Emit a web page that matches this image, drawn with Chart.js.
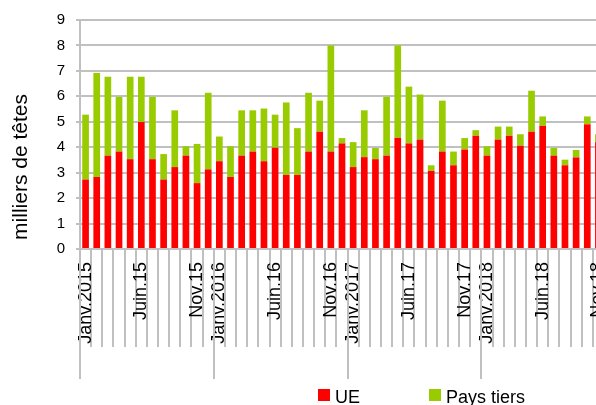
<!DOCTYPE html>
<html lang="fr">
<head>
<meta charset="utf-8">
<script src="https://cdn.jsdelivr.net/npm/chart.js@4/dist/chart.umd.min.js"></script>
<style>
    html, body { margin: 0; padding: 0; background: #fff; overflow: hidden; }
    #graficoTetes { display: block; }
</style>
</head>
<body>
<canvas id="graficoTetes" width="604" height="405"></canvas>
<script>
// mois de janv. 2015 a nov. 2018
const mois = [
    'Janv.2015', 'Févr.15', 'Mars.15', 'Avr.15', 'Mai.15', 'Juin.15', 'Juil.15', 'Août.15', 'Sept.15', 'Oct.15', 'Nov.15', 'Déc.15',
    'Janv.2016', 'Févr.16', 'Mars.16', 'Avr.16', 'Mai.16', 'Juin.16', 'Juil.16', 'Août.16', 'Sept.16', 'Oct.16', 'Nov.16', 'Déc.16',
    'Janv.2017', 'Févr.17', 'Mars.17', 'Avr.17', 'Mai.17', 'Juin.17', 'Juil.17', 'Août.17', 'Sept.17', 'Oct.17', 'Nov.17', 'Déc.17',
    'Janv.2018', 'Févr.18', 'Mars.18', 'Avr.18', 'Mai.18', 'Juin.18', 'Juil.18', 'Août.18', 'Sept.18', 'Oct.18', 'Nov.18'
];

// seules ces etiquettes sont ecrites sous l'axe
const etiquettesVisibles = [
    'Janv.2015', 'Juin.15', 'Nov.15',
    'Janv.2016', 'Juin.16', 'Nov.16',
    'Janv.2017', 'Juin.17', 'Nov.17',
    'Janv.2018', 'Juin.18', 'Nov.18'
];

const valeursUE = [
    2.73, 2.83, 3.67, 3.83, 3.53, 4.99, 3.53, 2.73, 3.22, 3.67, 2.59, 3.13,
    3.45, 2.83, 3.67, 3.83, 3.45, 3.98, 2.91, 2.91, 3.83, 4.61, 3.83, 4.15,
    3.22, 3.61, 3.53, 3.67, 4.37, 4.15, 4.30, 3.07, 3.83, 3.29, 3.91, 4.45,
    3.67, 4.30, 4.45, 4.06, 4.61, 4.84, 3.67, 3.29, 3.60, 4.90, 4.20
];

const valeursPaysTiers = [
    2.55, 4.09, 3.10, 2.15, 3.24, 1.78, 2.45, 1.00, 2.23, 0.37, 1.54, 3.01,
    0.97, 1.21, 1.78, 1.62, 2.07, 1.30, 2.85, 1.84, 2.31, 1.22, 4.17, 0.21,
    0.98, 1.84, 0.44, 2.31, 3.63, 2.23, 1.77, 0.22, 2.00, 0.54, 0.45, 0.22,
    0.37, 0.51, 0.36, 0.45, 1.61, 0.37, 0.30, 0.22, 0.29, 0.31, 0.31
];

const graduationsY = [0, 1, 2, 3, 4, 5, 6, 7, 8, 9];
const tituloY = 'milliers de têtes';

const corGrade = '#c0c0c0';
const fonte = '"Liberation Sans", Arial, sans-serif';

// traits longs entre les annees, titre vertical et legende dessines a la main
const pluginAxeAnnees = {
    id: 'axeAnnees',
    afterDraw(chart) {
        const ctx = chart.ctx;
        const x = chart.scales.x;
        const larg = x.getPixelForValue(1) - x.getPixelForValue(0);
        ctx.save();
        ctx.strokeStyle = corGrade;
        ctx.lineWidth = 2;
        for (var i = 0; i < mois.length; i++) {
            if (mois[i].indexOf('Janv') !== 0) continue;
            const px = Math.round(x.getPixelForValue(i) - larg / 2);
            ctx.beginPath();
            ctx.moveTo(px, chart.chartArea.bottom);
            ctx.lineTo(px, 379);
            ctx.stroke();
        }

        // titre de l'axe y
        ctx.save();
        ctx.translate(27, 167);
        ctx.rotate(-Math.PI / 2);
        ctx.font = '21px ' + fonte;
        ctx.fillStyle = '#000';
        ctx.textAlign = 'center';
        ctx.textBaseline = 'alphabetic';
        ctx.fillText(tituloY, 0, 0);
        ctx.restore();

        // legende
        const posLegende = [318, 429];
        ctx.font = '18px ' + fonte;
        ctx.textBaseline = 'alphabetic';
        chart.data.datasets.forEach((ds, k) => {
            ctx.fillStyle = ds.backgroundColor;
            ctx.fillRect(posLegende[k], 389, 12, 12);
            ctx.fillStyle = '#000';
            ctx.fillText(ds.label, posLegende[k] + 17, 403);
        });
        ctx.restore();
    }
};

const dados = {
    labels: mois,
    datasets: [{
        label: 'UE',
        data: valeursUE,
        backgroundColor: '#ff0000',
        barPercentage: 0.6,
        categoryPercentage: 1
    }, {
        label: 'Pays tiers',
        data: valeursPaysTiers,
        backgroundColor: '#99cc00',
        barPercentage: 0.6,
        categoryPercentage: 1
    }]
};

var configuracao = {
    type: 'bar',
    data: dados,
    options: {
        responsive: false,
        animation: false,
        layout: { padding: { top: 17, right: 0, bottom: 58, left: 0 } },
        plugins: {
            legend: { display: false },
            tooltip: { enabled: false }
        },
        scales: {
            x: {
                stacked: true,
                grid: {
                    drawOnChartArea: false,
                    color: corGrade,
                    lineWidth: 2,
                    tickLength: 98
                },
                border: { color: corGrade, width: 2 },
                ticks: {
                    autoSkip: false,
                    minRotation: 90,
                    maxRotation: 90,
                    padding: -85,
                    color: '#000',
                    font: { family: fonte, size: 18 },
                    callback: function (valor) {
                        const rotulo = this.getLabelForValue(valor);
                        return etiquettesVisibles.includes(rotulo) ? rotulo : '';
                    }
                },
                afterFit: function (escala) { escala.height = 98; }
            },
            y: {
                stacked: true,
                min: graduationsY[0],
                max: graduationsY[graduationsY.length - 1],
                afterBuildTicks: function (escala) {
                    escala.ticks = graduationsY.map(v => ({ value: v }));
                },
                grid: { color: corGrade, lineWidth: 2, tickLength: 4 },
                border: { color: corGrade, width: 2 },
                ticks: {
                    padding: 11,
                    color: '#000',
                    font: { family: fonte, size: 15 }
                },
                afterFit: function (escala) { escala.width = 80; }
            }
        }
    },
    plugins: [pluginAxeAnnees]
};

var graficoTetes = new Chart(document.getElementById('graficoTetes'), configuracao);
</script>
</body>
</html>
